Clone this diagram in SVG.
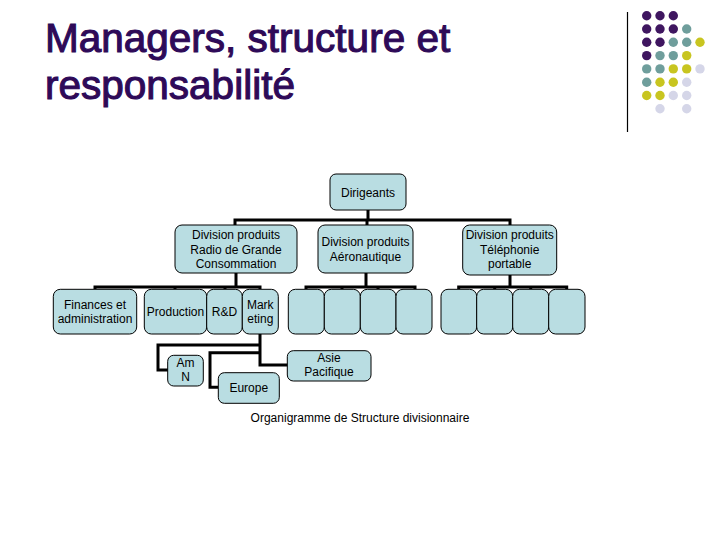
<svg xmlns="http://www.w3.org/2000/svg" width="720" height="540" viewBox="0 0 720 540">
<style>
.t{font-family:"Liberation Sans",Arial,sans-serif;fill:#000;font-size:12px;text-anchor:middle}
.title{font-family:"Liberation Sans",Arial,sans-serif;fill:#2e0a58;stroke:#2e0a58;stroke-width:1.1;font-size:40.5px}
.b{fill:#b9dde2;stroke:#000;stroke-width:1}
.c{fill:none;stroke:#000;stroke-width:3}
.p{fill:#3f1660}.g{fill:#6f9e9c}.y{fill:#c8c520}.l{fill:#d5d6e8}
</style>
<rect width="720" height="540" fill="#fff"/>
<g id="title">
<text class="title" x="45" y="52">Managers, structure et</text>
<text class="title" x="45" y="99">responsabilité</text>
</g>
<g id="decor">
<line x1="627.5" y1="12" x2="627.5" y2="132" stroke="#000" stroke-width="1.2"/>
<circle class="p" cx="646.7" cy="15.7" r="4.7"/><circle class="p" cx="660" cy="15.7" r="4.7"/><circle class="p" cx="673.3" cy="15.7" r="4.7"/>
<circle class="p" cx="646.7" cy="29" r="4.7"/><circle class="p" cx="660" cy="29" r="4.7"/><circle class="p" cx="673.3" cy="29" r="4.7"/><circle class="g" cx="686.7" cy="29" r="4.7"/>
<circle class="p" cx="646.7" cy="42.3" r="4.7"/><circle class="p" cx="660" cy="42.3" r="4.7"/><circle class="g" cx="673.3" cy="42.3" r="4.7"/><circle class="g" cx="686.7" cy="42.3" r="4.7"/><circle class="y" cx="700" cy="42.3" r="4.7"/>
<circle class="p" cx="646.7" cy="55.6" r="4.7"/><circle class="g" cx="660" cy="55.6" r="4.7"/><circle class="g" cx="673.3" cy="55.6" r="4.7"/><circle class="y" cx="686.7" cy="55.6" r="4.7"/>
<circle class="g" cx="646.7" cy="68.9" r="4.7"/><circle class="g" cx="660" cy="68.9" r="4.7"/><circle class="y" cx="673.3" cy="68.9" r="4.7"/><circle class="y" cx="686.7" cy="68.9" r="4.7"/><circle class="l" cx="700" cy="68.9" r="4.7"/>
<circle class="g" cx="646.7" cy="82.2" r="4.7"/><circle class="y" cx="660" cy="82.2" r="4.7"/><circle class="y" cx="673.3" cy="82.2" r="4.7"/><circle class="l" cx="686.7" cy="82.2" r="4.7"/>
<circle class="y" cx="646.7" cy="95.5" r="4.7"/><circle class="y" cx="660" cy="95.5" r="4.7"/><circle class="l" cx="673.3" cy="95.5" r="4.7"/><circle class="l" cx="686.7" cy="95.5" r="4.7"/>
<circle class="l" cx="660" cy="108.8" r="4.7"/><circle class="l" cx="686.7" cy="108.8" r="4.7"/>
</g>
<g id="connectors">
<path class="c" d="M368 210V220M235 225V220H510V225M367 220V225"/>
<path class="c" d="M236 273V287M95 289V287H260V289M175 287V289M225 287V289"/>
<path class="c" d="M366 273V287M306 289V287H415V289M342 287V289M378 287V289"/>
<path class="c" d="M510 275V287M458.7 289V287H566.7V289M494.7 287V289M530.7 287V289"/>
<path class="c" d="M260 334V365H288M260 345H158V370H168M260 352.7H210V387.3H218.3"/>
</g>
<g id="dirigeants"><rect class="b" x="330" y="174" width="76" height="36" rx="6"/><text class="t" x="368" y="196.5">Dirigeants</text></g>
<g id="div-radio"><rect class="b" x="175" y="225" width="122" height="48" rx="7"/><text class="t" x="236" y="239">Division produits</text><text class="t" x="236" y="254">Radio de Grande</text><text class="t" x="236" y="268">Consommation</text></g>
<g id="div-aero"><rect class="b" x="318" y="225" width="95" height="48" rx="7"/><text class="t" x="365.5" y="246">Division produits</text><text class="t" x="365.5" y="261">Aéronautique</text></g>
<g id="div-tel"><rect class="b" x="462.7" y="225" width="94" height="50" rx="7"/><text class="t" x="509.7" y="239">Division produits</text><text class="t" x="509.7" y="254">Téléphonie</text><text class="t" x="509.7" y="268">portable</text></g>
<g id="finances"><rect class="b" x="53.3" y="289.3" width="83.4" height="44.7" rx="7"/><text class="t" x="95" y="309">Finances et</text><text class="t" x="95" y="323">administration</text></g>
<g id="production"><rect class="b" x="144.3" y="289.3" width="62.4" height="44.7" rx="7"/><text class="t" x="175.5" y="316">Production</text></g>
<g id="rd"><rect class="b" x="206.7" y="289.3" width="35.6" height="44.7" rx="7"/><text class="t" x="224.5" y="316">R&amp;D</text></g>
<g id="marketing"><rect class="b" x="242.3" y="289.3" width="36" height="44.7" rx="7"/><text class="t" x="260.3" y="309">Mark</text><text class="t" x="260.3" y="323">eting</text></g>
<g id="aero-1"><rect class="b" x="288.3" y="289.3" width="36" height="44.7" rx="7"/></g>
<g id="aero-2"><rect class="b" x="324.3" y="289.3" width="36" height="44.7" rx="7"/></g>
<g id="aero-3"><rect class="b" x="360.3" y="289.3" width="35.7" height="44.7" rx="7"/></g>
<g id="aero-4"><rect class="b" x="396" y="289.3" width="36" height="44.7" rx="7"/></g>
<g id="tel-1"><rect class="b" x="441" y="289.3" width="35.7" height="44.7" rx="7"/></g>
<g id="tel-2"><rect class="b" x="476.7" y="289.3" width="36" height="44.7" rx="7"/></g>
<g id="tel-3"><rect class="b" x="512.7" y="289.3" width="36" height="44.7" rx="7"/></g>
<g id="tel-4"><rect class="b" x="548.7" y="289.3" width="36.3" height="44.7" rx="7"/></g>
<g id="amn"><rect class="b" x="167.7" y="355.3" width="35.6" height="30.7" rx="6"/><text class="t" x="185.5" y="367">Am</text><text class="t" x="185.5" y="381">N</text></g>
<g id="europe"><rect class="b" x="218.3" y="372.7" width="61" height="30.6" rx="6"/><text class="t" x="248.8" y="392">Europe</text></g>
<g id="asie"><rect class="b" x="287.3" y="350.7" width="83.7" height="30.3" rx="6"/><text class="t" x="329" y="362">Asie</text><text class="t" x="329" y="376">Pacifique</text></g>
<text class="t" x="360" y="422">Organigramme de Structure divisionnaire</text>
</svg>
